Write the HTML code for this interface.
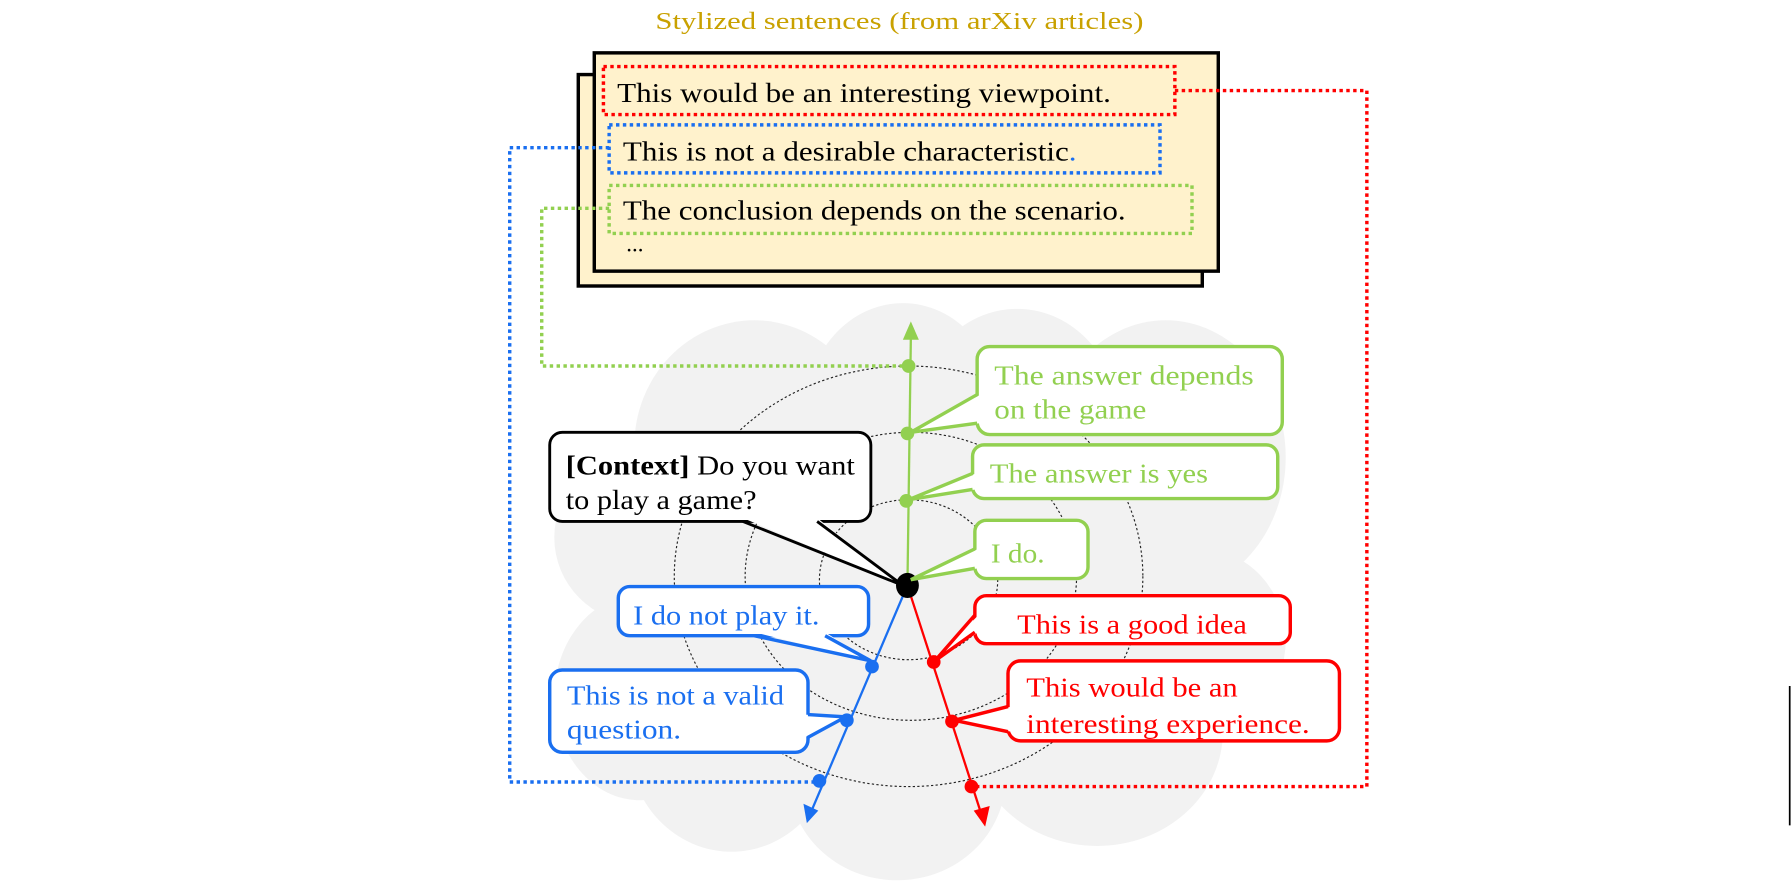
<!DOCTYPE html>
<html><head><meta charset="utf-8"><style>html,body{margin:0;padding:0;background:#fff}svg{display:block}text{font-family:"Liberation Serif",serif}</style></head>
<body>
<svg width="1792" height="892" viewBox="0 0 1568 780" xmlns="http://www.w3.org/2000/svg">
<g fill="#f2f2f2">
<ellipse cx="660" cy="390" rx="105" ry="110"/>
<ellipse cx="790" cy="360" rx="85" ry="95"/>
<ellipse cx="890" cy="370" rx="90" ry="100"/>
<ellipse cx="1020" cy="400" rx="105" ry="120"/>
<ellipse cx="560" cy="470" rx="75" ry="75"/>
<ellipse cx="560" cy="610" rx="75" ry="90"/>
<ellipse cx="640" cy="650" rx="90" ry="95"/>
<ellipse cx="785" cy="680" rx="95" ry="90"/>
<ellipse cx="960" cy="640" rx="110" ry="100"/>
<ellipse cx="1050" cy="560" rx="75" ry="80"/>
<ellipse cx="790" cy="500" rx="260" ry="180"/>
</g>
<g fill="none" stroke="#222" stroke-width="1" stroke-dasharray="2,2">
<ellipse cx="795" cy="504" rx="205" ry="184"/>
<ellipse cx="797" cy="504" rx="145" ry="126"/>
<ellipse cx="795" cy="507" rx="78" ry="70"/>
</g>
<text x="787" y="25" font-size="21" fill="#c9a100" text-anchor="middle" textLength="427" lengthAdjust="spacingAndGlyphs">Stylized sentences (from arXiv articles)</text>
<rect x="506" y="65" width="546" height="185" fill="#fff2cc" stroke="#000" stroke-width="3"/>
<rect x="520" y="46" width="546" height="191" fill="#fff2cc" stroke="#000" stroke-width="3"/>
<g fill="none" stroke-width="3" stroke-dasharray="3,3">
<rect x="528" y="58" width="500" height="42" stroke="#ff0000"/>
<rect x="533" y="109" width="482" height="42" stroke="#1a6ff0"/>
<rect x="533" y="162" width="510" height="42" stroke="#92d050"/>
<polyline points="1028,79 1196,79 1196,688 850,688" stroke="#ff0000"/>
<polyline points="533,129 446,129 446,684 717,684" stroke="#1a6ff0"/>
<polyline points="533,182 474,182 474,320 795,320" stroke="#92d050"/>
</g>
<text x="540" y="89" font-size="24" textLength="432" lengthAdjust="spacingAndGlyphs">This would be an interesting viewpoint.</text>
<text x="545" y="140" font-size="24" textLength="397" lengthAdjust="spacingAndGlyphs">This is not a desirable characteristic<tspan fill="#1a6ff0">.</tspan></text>
<text x="545" y="192" font-size="24" textLength="440" lengthAdjust="spacingAndGlyphs">The conclusion depends on the scenario.</text>
<text x="548" y="220" font-size="20">...</text>
<line x1="794" y1="512" x2="797" y2="295" stroke="#92d050" stroke-width="2"/>
<polygon points="797,281 790,297 804,297" fill="#92d050"/>
<line x1="794" y1="512" x2="711" y2="707" stroke="#1a6ff0" stroke-width="2"/>
<polygon points="706,720 703,703 716,709" fill="#1a6ff0"/>
<line x1="794" y1="512" x2="858" y2="710" stroke="#ff0000" stroke-width="2"/>
<polygon points="862,723 852,709 866,705" fill="#ff0000"/>
<g fill="#92d050"><circle cx="795" cy="320" r="6"/><circle cx="794" cy="379" r="6"/><circle cx="793" cy="438" r="6"/></g>
<g fill="#1a6ff0"><circle cx="763" cy="583" r="6"/><circle cx="741" cy="630" r="6"/><circle cx="717" cy="683" r="6"/></g>
<g fill="#ff0000"><circle cx="817" cy="579" r="6"/><circle cx="833" cy="631" r="6"/><circle cx="850" cy="688" r="6"/></g>
<ellipse cx="794" cy="512" rx="10" ry="11" fill="#000"/>
<g stroke-width="3" stroke-linejoin="miter">
<rect x="481" y="378" width="281" height="78" rx="11" fill="#fff" stroke="#000" stroke-width="2.5"/>
<polygon points="650,453 790,512 715,453" fill="#fff"/>
<polyline points="650,456 790,512 715,456" fill="none" stroke="#000" stroke-width="2.5"/>
<rect x="855" y="303" width="267" height="77" rx="11" fill="#fff" stroke="#92d050"/>
<polygon points="858,345 797,378 858,370" fill="#fff"/>
<polyline points="855,345 797,378 855,370" fill="none" stroke="#92d050"/>
<rect x="851" y="389" width="267" height="47" rx="10" fill="#fff" stroke="#92d050"/>
<polygon points="854,414 795,437 854,428" fill="#fff"/>
<polyline points="851,414 795,437 851,428" fill="none" stroke="#92d050"/>
<rect x="853" y="455" width="99" height="51" rx="10" fill="#fff" stroke="#92d050"/>
<polygon points="856,480 797,507 856,497" fill="#fff"/>
<polyline points="853,480 797,507 853,497" fill="none" stroke="#92d050"/>
<rect x="541" y="513" width="219" height="43" rx="10" fill="#fff" stroke="#1a6ff0"/>
<polygon points="660,553 762,578 722,553" fill="#fff"/>
<polyline points="660,556 762,578 722,556" fill="none" stroke="#1a6ff0"/>
<rect x="481" y="586" width="226" height="72" rx="11" fill="#fff" stroke="#1a6ff0"/>
<polygon points="704,625 740,627 704,645" fill="#fff"/>
<polyline points="707,625 740,627 707,645" fill="none" stroke="#1a6ff0"/>
<rect x="853" y="521" width="276" height="42" rx="10" fill="#fff" stroke="#ff0000"/>
<polygon points="856,538 818,578 856,553" fill="#fff"/>
<polyline points="853,538 818,578 853,553" fill="none" stroke="#ff0000"/>
<rect x="882" y="578" width="290" height="70" rx="11" fill="#fff" stroke="#ff0000"/>
<polygon points="885,618 835,630 885,640" fill="#fff"/>
<polyline points="882,618 835,630 882,640" fill="none" stroke="#ff0000"/>
</g>
<text x="495" y="415" font-size="24" textLength="253" lengthAdjust="spacingAndGlyphs"><tspan font-weight="bold">[Context]</tspan> Do you want</text>
<text x="495" y="445" font-size="24" textLength="167" lengthAdjust="spacingAndGlyphs">to play a game?</text>
<g fill="#92d050" font-size="24">
<text x="870" y="336" textLength="227" lengthAdjust="spacingAndGlyphs">The answer depends</text>
<text x="870" y="366" textLength="133" lengthAdjust="spacingAndGlyphs">on the game</text>
<text x="866" y="422" textLength="191" lengthAdjust="spacingAndGlyphs">The answer is yes</text>
<text x="867" y="492" textLength="47" lengthAdjust="spacingAndGlyphs">I do.</text>
</g>
<g fill="#1a6ff0" font-size="24">
<text x="554" y="546" textLength="163" lengthAdjust="spacingAndGlyphs">I do not play it.</text>
<text x="496" y="616" textLength="190" lengthAdjust="spacingAndGlyphs">This is not a valid</text>
<text x="496" y="646" textLength="100" lengthAdjust="spacingAndGlyphs">question.</text>
</g>
<g fill="#ff0000" font-size="24">
<text x="890" y="554" textLength="201" lengthAdjust="spacingAndGlyphs">This is a good idea</text>
<text x="898" y="609" textLength="185" lengthAdjust="spacingAndGlyphs">This would be an</text>
<text x="898" y="641" textLength="248" lengthAdjust="spacingAndGlyphs">interesting experience.</text>
</g>
<line x1="1566" y1="600" x2="1566" y2="722" stroke="#000" stroke-width="1.5"/>
</svg>
</body></html>
